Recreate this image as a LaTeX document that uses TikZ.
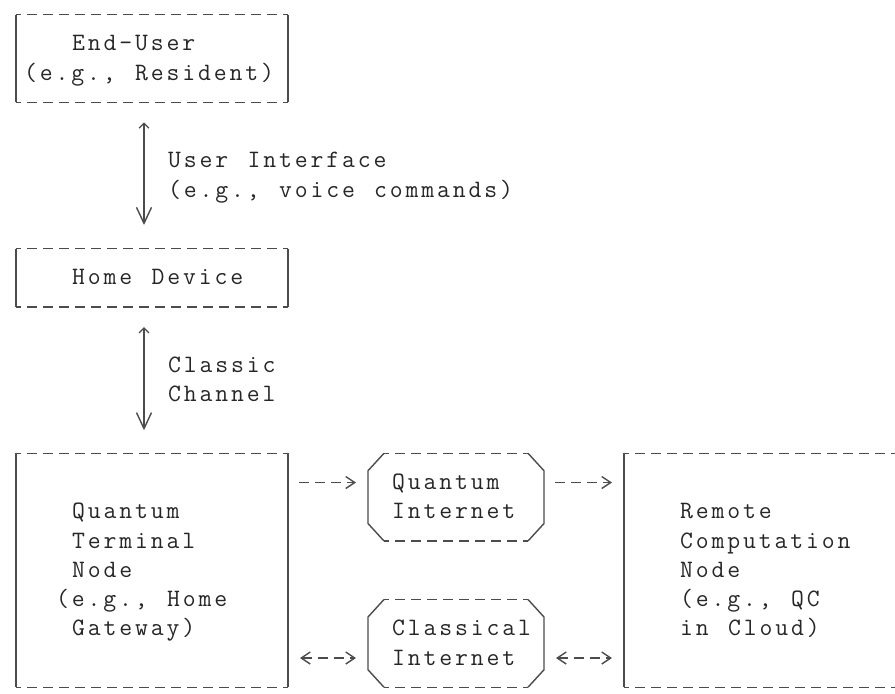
\documentclass[tikz,border=0pt]{standalone}
\usepackage{fontspec}
\newfontfamily\asciifont{Latin Modern Mono}[LetterSpace=11.5, WordSpace=1.22]
\usetikzlibrary{arrows.meta}
\newcommand{\boxedges}[1]{%
  \draw[vbar] (#1.north west) -- (#1.south west) (#1.north east) -- (#1.south east);
  \draw[hbar] (#1.north west) -- (#1.north east) (#1.south west) -- (#1.south east);}
\newcommand{\netedges}[1]{%
  \draw[vbar] ([xshift=16pt]#1.north west)  -- ([yshift=-17.5pt]#1.north west) -- ([yshift=17.5pt]#1.south west) -- ([xshift=16pt]#1.south west)
              ([xshift=-16pt]#1.north east) -- ([yshift=-17.5pt]#1.north east) -- ([yshift=17.5pt]#1.south east) -- ([xshift=-16pt]#1.south east);
  \draw[hbar] ([xshift=16pt]#1.north west) -- ([xshift=-16pt]#1.north east)
              ([xshift=16pt]#1.south west) -- ([xshift=-16pt]#1.south east);}
\tikzset{
  vbar/.style={line width=1.4pt, black!70},
  hbar/.style={vbar, dash pattern=on 10pt off 6pt, dash phase=5pt},
  box/.style={inner sep=0pt, outer sep=0pt, minimum width=272pt},
  net/.style={inner sep=0pt, outer sep=0pt, minimum width=176pt, minimum height=87.75pt},
  txt/.style={anchor=base west, inner sep=0pt, xshift=-8pt, yshift=-7pt, black!85,
    font=\asciifont\fontsize{25pt}{29.25pt}\selectfont\frenchspacing},
  varrow/.style={vbar, {Straight Barb[length=5pt,width=10pt]}-{Straight Barb[length=16pt,width=15pt]}},
  harrow/.style={vbar, dash pattern=on 10pt off 6pt, shorten <=11pt, shorten >=12pt}
}
\begin{document}
\begin{tikzpicture}[x=16pt, y=-29.25pt, >={Straight Barb[length=9pt,width=12pt]}]
\useasboundingbox (-1,-0.4957) rectangle (54.9375,23.2308);
\clip             (-1,-0.4957) rectangle (54.9375,23.2308);
\node[box, minimum height=87.75pt]                    (eu)  at (8.5,1.5)   {};
\node[box, minimum height=58.5pt]                     (hd)  at (8.5,9)     {};
\node[box, minimum height=234pt]                      (qtn) at (8.5,19)    {};
\node[box, minimum height=234pt, minimum width=304pt] (rcn) at (47.5,19)   {};
\node[net]                                            (qi)  at (27.5,16.5) {};
\node[net]                                            (ci)  at (27.5,21.5) {};
\foreach \n in {eu,hd,qtn,rcn} {\boxedges{\n}}
\foreach \n in {qi,ci} {\netedges{\n}}
\foreach \c/\r/\lbl [count=\i] in {4/1/End-User, 1/2/{(e.g., Resident)},
    10/5/User Interface, 10/6/{(e.g., voice commands)}, 4/9/Home Device,
    10/12/Classic, 10/13/Channel,
    4/17/Quantum, 4/18/Terminal, 4/19/Node, 3/20/{(e.g., Home}, 4/21/{Gateway)},
    24/16/Quantum, 24/17/Internet, 24/21/Classical, 24/22/Internet,
    42/17/Remote, 42/18/Computation, 42/19/Node, 42/20/{(e.g., QC}, 42/21/{in Cloud)}}
  \node[txt] (l\i) at (\c,\r) {\lbl};
\draw[varrow, shorten <=20pt, shorten >=23.5pt] ([xshift=-8pt]eu.south) -- ([xshift=-8pt]hd.north);
\draw[varrow, shorten <=20pt, shorten >=23pt]   ([xshift=-8pt]hd.south) -- ([xshift=-8pt]qtn.north);
\draw[harrow, ->]                   ([yshift=14.625pt]qi.west -| qtn.east)  -- ([yshift=14.625pt]qi.west);
\draw[harrow, ->]                   ([yshift=14.625pt]qi.east)              -- ([yshift=14.625pt]qi.east -| rcn.west);
\draw[harrow, <->, shorten <=12pt]  ([yshift=-14.625pt]ci.west -| qtn.east) -- ([yshift=-14.625pt]ci.west);
\draw[harrow, <->, shorten <=12pt]  ([yshift=-14.625pt]ci.east)             -- ([yshift=-14.625pt]ci.east -| rcn.west);
\end{tikzpicture}
\end{document}
